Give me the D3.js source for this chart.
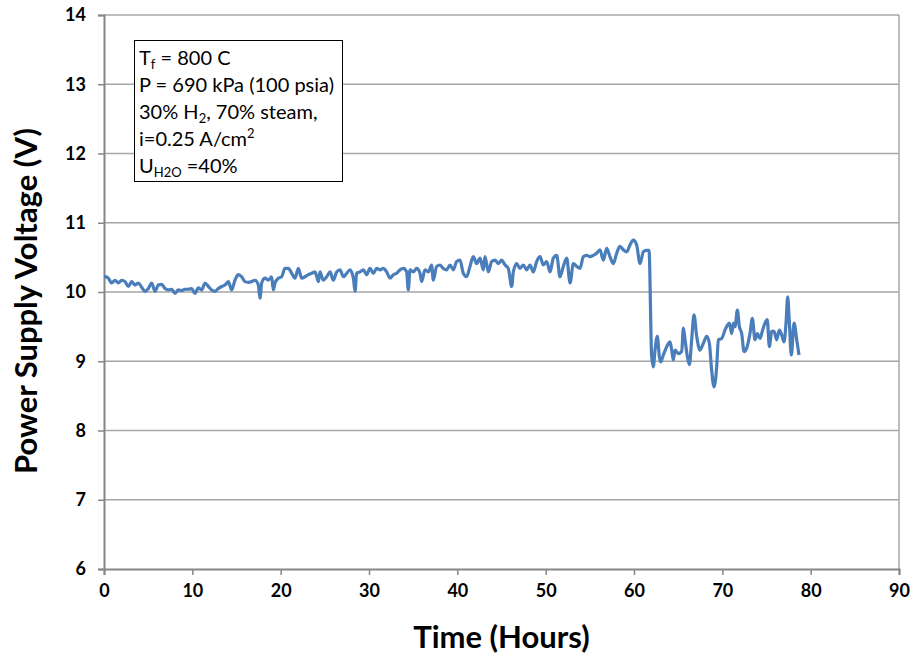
<!DOCTYPE html>
<html>
<head>
<meta charset="utf-8">
<script src="https://cdn.jsdelivr.net/npm/d3@7"></script>
<style>
  body { margin: 0; background: #fff; }
  svg { display: block; font-family: Lato, "Open Sans", sans-serif; }
  .tick text { font-weight: bold; font-size: 18px; fill: #000; }
  .axis-title { font-weight: bold; font-size: 31px; fill: #000; }
  .note text { font-size: 20px; fill: #000; }
</style>
</head>
<body>
<div id="chart"></div>
<script>
// Time in hours and power supply voltage
const hours = [
  0, 0.49, 0.87, 1.25, 1.62, 2.0, 2.38, 2.76, 3.13, 3.51, 3.89, 4.26, 4.64, 5.02, 5.4, 5.77,
  6.15, 6.53, 6.91, 7.28, 7.66, 8.04, 8.42, 8.79, 9.17, 9.55, 9.92, 10.3, 10.68, 11.06, 11.43,
  11.81, 12.19, 12.57, 12.94, 13.32, 13.7, 14.08, 14.45, 14.83, 15.21, 15.59, 15.96, 16.34,
  16.72, 17.1, 17.47, 17.66, 17.85, 18.23, 18.6, 18.98, 19.17, 19.36, 19.74, 20.11, 20.49,
  20.87, 21.25, 21.62, 22.0, 22.38, 22.76, 23.13, 23.51, 23.89, 24.27, 24.45, 24.83, 25.21,
  25.59, 25.96, 26.34, 26.72, 27.1, 27.47, 27.85, 28.23, 28.42, 28.6,
  28.98, 29.36, 29.74, 30.11, 30.49, 30.87, 31.25, 31.62, 32.0, 32.38, 32.76, 33.13, 33.51,
  33.89, 34.26, 34.45, 34.64, 35.02, 35.4, 35.77, 35.96, 36.34, 36.72, 37.09, 37.28, 37.66,
  38.04, 38.41, 38.79, 39.17, 39.55, 39.92, 40.3, 40.68, 41.06, 41.43, 41.81, 42.19, 42.57,
  42.94, 43.13, 43.51, 43.89, 44.26, 44.64, 45.02, 45.4, 45.77, 46.15, 46.34, 46.72, 47.09,
  47.47, 47.85, 48.23, 48.6, 48.98, 49.36, 49.74, 50.11, 50.49, 50.87, 51.25, 51.62, 52.0,
  52.38, 52.76, 53.13, 53.51, 53.89, 54.26, 54.64, 55.02, 55.4, 55.77, 56.15, 56.53, 56.91,
  57.28, 57.66, 58.04, 58.41, 58.79, 59.17, 59.55, 59.92, 60.3, 60.68, 61.06, 61.43, 61.7,
  62.0, 62.19, 62.38, 62.64, 62.87, 63.02, 63.32, 63.7, 64.08, 64.27, 64.45, 64.64, 65.02,
  65.4, 65.59, 65.78, 66.04, 66.27, 66.53, 66.79, 67.1, 67.47, 67.85, 68.23, 68.53, 68.79,
  69.06, 69.36, 69.55, 69.93, 70.3, 70.57, 70.8, 71.06, 71.25, 71.44, 71.7, 71.93, 72.19,
  72.46, 72.76, 73.13, 73.4, 73.7, 73.96, 74.26, 74.56, 74.83, 75.09, 75.32, 75.59, 75.85,
  76.15, 76.45, 76.72, 76.98, 77.21, 77.4, 77.59, 77.81, 78.12, 78.42, 78.68
];
const voltage = [
  10.23, 10.2, 10.13, 10.17, 10.13, 10.17, 10.15, 10.08, 10.15, 10.1, 10.13, 10.07, 10.01, 10.05, 10.13, 10.01,
  10.1, 10.11, 10.05, 10.03, 10.04, 9.98, 10.03, 10.02, 10.04, 10.04, 10.05, 9.98, 10.06, 10.03, 10.13,
  10.08, 10.03, 10.01, 10.05, 10.08, 10.1, 10.15, 10.03, 10.17, 10.25, 10.22, 10.15, 10.14,
  10.15, 10.17, 10.1, 9.91, 10.13, 10.2, 10.17, 10.22, 10.03, 10.13, 10.2, 10.22, 10.34,
  10.34, 10.27, 10.2, 10.34, 10.2, 10.22, 10.25, 10.27, 10.29, 10.15, 10.29, 10.17, 10.22,
  10.29, 10.17, 10.29, 10.32, 10.22, 10.27, 10.32, 10.2, 10.01, 10.27,
  10.29, 10.32, 10.25, 10.34, 10.27, 10.34, 10.32, 10.34, 10.29, 10.2, 10.25, 10.27, 10.32,
  10.34, 10.29, 10.03, 10.32, 10.29, 10.34, 10.27, 10.15, 10.32, 10.29, 10.39, 10.17, 10.37,
  10.39, 10.34, 10.32, 10.39, 10.32, 10.44, 10.46, 10.27, 10.22, 10.37, 10.51, 10.41, 10.49,
  10.32, 10.51, 10.29, 10.44, 10.46, 10.41, 10.46, 10.39, 10.34, 10.08, 10.29, 10.41, 10.34,
  10.39, 10.32, 10.39, 10.29, 10.44, 10.51, 10.39, 10.44, 10.29, 10.49, 10.53, 10.22, 10.37,
  10.49, 10.13, 10.41, 10.37, 10.34, 10.51, 10.53, 10.51, 10.53, 10.56, 10.61, 10.46, 10.63,
  10.51, 10.41, 10.56, 10.66, 10.61, 10.58, 10.68, 10.75, 10.68, 10.41, 10.58, 10.6, 10.6,
  9.07, 8.92, 9.16, 9.36, 9.07, 8.99, 9.09, 9.21, 9.28, 9.16, 9.02, 9.16, 9.11,
  9.14, 9.48, 9.31, 9.07, 8.95, 9.31, 9.67, 9.36, 9.16, 9.26, 9.36, 9.26, 8.87,
  8.63, 8.92, 9.31, 9.33, 9.45, 9.52, 9.55, 9.4, 9.55, 9.5, 9.74, 9.5, 9.4,
  9.14, 9.19, 9.4, 9.62, 9.31, 9.4, 9.33, 9.45, 9.55, 9.6, 9.21, 9.43, 9.43,
  9.31, 9.45, 9.38, 9.28, 9.55, 9.93, 9.55, 9.09, 9.55, 9.31, 9.09
];
const xTicks = [0, 10, 20, 30, 40, 50, 60, 70, 80, 90];
const yTicks = [6, 7, 8, 9, 10, 11, 12, 13, 14];

const width = 913;
const height = 656;
const margin = { top: 15, right: 14, bottom: 87, left: 104 };

const svg = d3.select("#chart")
  .append("svg")
  .attr("width", width)
  .attr("height", height);

const x = d3.scaleLinear()
  .domain([0, 90])
  .range([margin.left, width - margin.right]);
const y = d3.scaleLinear()
  .domain([6, 14])
  .range([height - margin.bottom, margin.top]);

// Gridlines
svg.append("g")
  .selectAll("line")
  .data(yTicks.filter((d) => d > 6))
  .join("line")
  .attr("x1", x(0))
  .attr("x2", x(90))
  .attr("y1", (d) => y(d))
  .attr("y2", (d) => y(d))
  .attr("stroke", "#a6a6a6")
  .attr("stroke-width", 1.5);

// Right border of plot area
svg.append("line")
  .attr("x1", x(90))
  .attr("x2", x(90))
  .attr("y1", y(14))
  .attr("y2", y(6))
  .attr("stroke", "#a6a6a6")
  .attr("stroke-width", 1.5);

// Axes
const gx = svg.append("g")
  .attr("transform", `translate(0,${y(6)})`)
  .call(d3.axisBottom(x).tickValues(xTicks).tickSize(6).tickPadding(9))
  .call((g) => g.attr("font-family", null).attr("font-size", null));
gx.select(".domain").attr("stroke", "#868686").attr("stroke-width", 2);
gx.selectAll(".tick line").attr("stroke", "#868686").attr("stroke-width", 1.5);

const gy = svg.append("g")
  .attr("transform", `translate(${x(0)},0)`)
  .call(d3.axisLeft(y).tickValues(yTicks).tickSize(6).tickPadding(12))
  .call((g) => g.attr("font-family", null).attr("font-size", null));
gy.select(".domain").attr("stroke", "#868686").attr("stroke-width", 2);
gy.selectAll(".tick line").attr("stroke", "#868686").attr("stroke-width", 1.5);

// Data line
const line = d3.line()
  .x((d) => x(d[0]))
  .y((d) => y(d[1]))
  .curve(d3.curveMonotoneX);

svg.append("path")
  .datum(d3.zip(hours, voltage))
  .attr("fill", "none")
  .attr("stroke", "#4a7ebb")
  .attr("stroke-width", 3.2)
  .attr("stroke-linejoin", "round")
  .attr("d", line);

// Axis titles
svg.append("text")
  .attr("class", "axis-title")
  .attr("x", (x(0) + x(90)) / 2)
  .attr("y", 648)
  .attr("text-anchor", "middle")
  .text("Time (Hours)");

svg.append("text")
  .attr("class", "axis-title")
  .attr("transform", `translate(37,301) rotate(-90)`)
  .attr("text-anchor", "middle")
  .text("Power Supply Voltage (V)");

// Condition note box
const note = svg.append("g").attr("class", "note");
note.append("rect")
  .attr("x", 134.5)
  .attr("y", 40.5)
  .attr("width", 208)
  .attr("height", 141)
  .attr("fill", "#fff")
  .attr("stroke", "#000")
  .attr("stroke-width", 1);

const noteX = 139;
const lineY = [65, 92, 119, 146, 173];
const t1 = note.append("text").attr("x", noteX).attr("y", lineY[0]);
t1.append("tspan").text("T");
t1.append("tspan").attr("font-size", 13).attr("dy", 4).text("f");
t1.append("tspan").attr("dy", -4).text(" = 800 C");

note.append("text").attr("x", noteX).attr("y", lineY[1]).text("P = 690 kPa (100 psia)");

const t3 = note.append("text").attr("x", noteX).attr("y", lineY[2]);
t3.append("tspan").text("30% H");
t3.append("tspan").attr("font-size", 13).attr("dy", 4).text("2");
t3.append("tspan").attr("dy", -4).text(", 70% steam,");

const t4 = note.append("text").attr("x", noteX).attr("y", lineY[3]);
t4.append("tspan").text("i=0.25 A/cm");
t4.append("tspan").attr("font-size", 13).attr("dy", -8).text("2");

const t5 = note.append("text").attr("x", noteX).attr("y", lineY[4]);
t5.append("tspan").text("U");
t5.append("tspan").attr("font-size", 13).attr("dy", 4).text("H2O");
t5.append("tspan").attr("dy", -4).text(" =40%");
</script>
</body>
</html>
